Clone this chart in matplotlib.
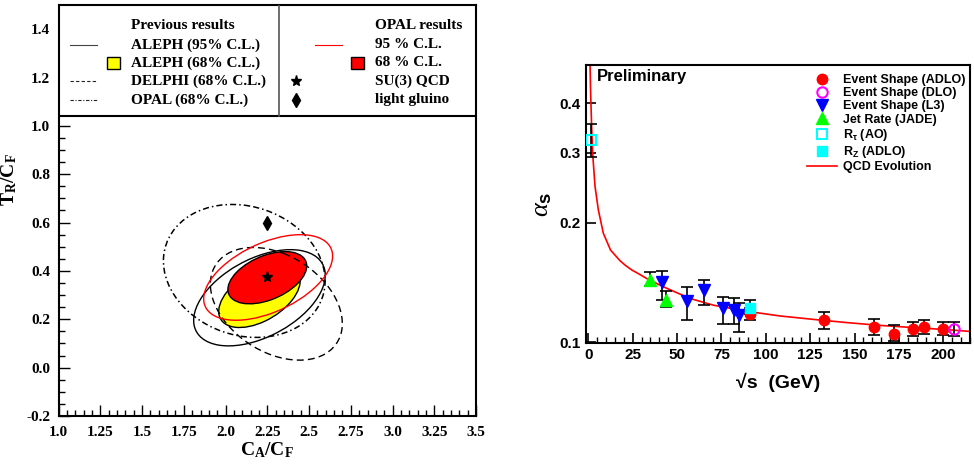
import numpy as np
import matplotlib.pyplot as plt
from matplotlib.patches import Ellipse, Rectangle
from matplotlib.lines import Line2D
from matplotlib.ticker import MultipleLocator, NullLocator, FixedLocator

plt.rcParams['mathtext.fontset'] = 'custom'
plt.rcParams['mathtext.rm'] = 'Liberation Serif:bold'
plt.rcParams['mathtext.bf'] = 'Liberation Serif:bold'
plt.rcParams['mathtext.it'] = 'Liberation Serif:italic'
plt.rcParams['mathtext.sf'] = 'Liberation Sans:bold'

# ---- left panel: contours (centre x, centre y, half-width x, half-width y, correlation)
aleph95 = [2.203, 0.289, 0.394, 0.199, 0.47]
aleph68 = [2.203, 0.296, 0.244, 0.130, 0.49]
delphi68 = [2.304, 0.264, 0.395, 0.233, -0.35]
opal_old68 = [2.112, 0.400, 0.484, 0.275, -0.15]
opal95 = [2.255, 0.373, 0.386, 0.177, 0.50]
opal68 = [2.250, 0.372, 0.236, 0.108, 0.45]
su3_qcd = [2.25, 0.375]
light_gluino = [2.25, 0.60]

# ---- right panel: alpha_s vs sqrt(s)
es_adlo_x = [91.2, 133, 161, 172, 183, 189, 200]
es_adlo_y = [0.1180, 0.1135, 0.1091, 0.1050, 0.1077, 0.1091, 0.1081]
es_adlo_hi = [0.1220, 0.1191, 0.1146, 0.1102, 0.1124, 0.1139, 0.1124]
es_adlo_lo = [0.1140, 0.1081, 0.1040, 0.1005, 0.1034, 0.1050, 0.1040]

es_dlo_x = [206]
es_dlo_y = [0.1077]
es_dlo_hi = [0.1124]
es_dlo_lo = [0.1034]

es_l3_x = [41.4, 55.3, 65.4, 75.7, 82.3, 85.1]
es_l3_y = [0.1414, 0.1270, 0.1352, 0.1219, 0.1208, 0.1169]
es_l3_hi = [0.1514, 0.1378, 0.1433, 0.1300, 0.1293, 0.1258]
es_l3_lo = [0.1280, 0.1139, 0.1239, 0.1113, 0.1109, 0.1060]

jade_x = [35, 44]
jade_y = [0.1433, 0.1275]
jade_hi = [0.1504, 0.1344]
jade_lo = [0.1383, 0.1227]

rtau_x = [1.78]
rtau_y = [0.3243]
rtau_hi = [0.3550]
rtau_lo = [0.2926]

rz_x = [91.2]
rz_y = [0.1222]
rz_hi = [0.1275]
rz_lo = [0.1180]

qcd_x = [0.97, 1.29, 1.86, 2.42, 3.77, 5.63, 8.44, 12.5, 17.8, 21, 24.5, 28, 34, 44.3,
         57.4, 70.5, 89.3, 108, 126.8, 145.6, 164.3, 183.1, 201.9, 215]
qcd_y = [0.500, 0.426, 0.350, 0.300, 0.247, 0.2156, 0.1882, 0.1707, 0.1605, 0.156,
         0.152, 0.149, 0.1437, 0.1366, 0.1288, 0.1239, 0.1196, 0.1164, 0.1141, 0.1120,
         0.1102, 0.1088, 0.1075, 0.1064]


def contour(p, **kw):
    cx, cy, sx, sy, r = p
    cov = np.array([[sx**2, r*sx*sy], [r*sx*sy, sy**2]])
    vals, vecs = np.linalg.eigh(cov)
    ang = np.degrees(np.arctan2(vecs[1, 1], vecs[0, 1]))
    return Ellipse((cx, cy), 2*np.sqrt(vals[1]), 2*np.sqrt(vals[0]), angle=ang, **kw)


fig = plt.figure(figsize=(9.74, 4.66), dpi=100)

serif = 'Liberation Serif'
sans = ['Liberation Sans', 'DejaVu Sans']

# ================= left panel =================
ax = fig.add_axes([0.0601, 0.1073, 0.4287, 0.882])
ax.set_xlim(1.0, 3.5)
ax.set_ylim(-0.2, 1.5)

ax.add_patch(contour(aleph68, facecolor='#ffff00', edgecolor='black', lw=1.0, zorder=2))
ax.add_patch(contour(opal68, facecolor='#ff0000', edgecolor='black', lw=1.0, zorder=2.1))
ax.add_patch(contour(aleph95, facecolor='none', edgecolor='black', lw=1.0, zorder=2.2))
ax.add_patch(contour(delphi68, facecolor='none', edgecolor='black', lw=1.0,
                     linestyle=(0, (5, 3)), zorder=2.2))
ax.add_patch(contour(opal_old68, facecolor='none', edgecolor='black', lw=1.1,
                     linestyle=(0, (4, 2, 1, 2)), zorder=2.2))
ax.add_patch(contour(opal95, facecolor='none', edgecolor='red', lw=1.0, zorder=2.3))
ax.plot([su3_qcd[0]], [su3_qcd[1]], marker='*', color='black', ms=8, zorder=3)
ax.plot([light_gluino[0]], [light_gluino[1]], marker='d', color='black', ms=7, zorder=3)

ax.xaxis.set_minor_locator(MultipleLocator(0.05))
ax.yaxis.set_minor_locator(MultipleLocator(0.05))
ax.set_xticks(np.arange(1.0, 3.51, 0.25))
ax.set_xticklabels(['1.0', '1.25', '1.5', '1.75', '2.0', '2.25', '2.5', '2.75', '3.0', '3.25', '3.5'])
ax.set_yticks(np.arange(-0.2, 1.41, 0.2))
ax.set_yticklabels(['-0.2', '0.0', '0.2', '0.4', '0.6', '0.8', '1.0', '1.2', '1.4'])
ax.tick_params(which='both', direction='in')
ax.tick_params(which='major', length=8, width=1)
ax.tick_params(which='minor', length=4, width=1)
ax.tick_params(axis='x', pad=7)
ax.tick_params(axis='y', pad=6)
for lab in ax.get_xticklabels() + ax.get_yticklabels():
    lab.set_fontfamily(serif)
    lab.set_fontweight('bold')
    lab.set_fontsize(11)
for s in ax.spines.values():
    s.set_linewidth(1.5)

ax.set_xlabel(r'$\mathrm{C_A/C_F}$', fontsize=14, labelpad=1)
ax.set_ylabel(r'$\mathrm{T_R/C_F}$', fontsize=14, labelpad=4)
ax.yaxis.set_label_coords(-0.095, 0.574)

# legend box on top of the plot
ax.add_patch(Rectangle((0, 0.730), 1, 0.270, transform=ax.transAxes,
                       facecolor='white', edgecolor='black', lw=1.5, zorder=5))
ax.add_line(Line2D([0.528, 0.528], [0.730, 1.0], transform=ax.transAxes,
                   color='#555555', lw=1.2, zorder=6))
rows = [0.949, 0.903, 0.859, 0.814, 0.769]
tk = dict(transform=ax.transAxes, fontfamily=serif, fontweight='bold',
          fontsize=11, va='center', zorder=7)
ax.text(0.1737, rows[0], 'Previous results', **tk)
ax.text(0.1737, rows[1], 'ALEPH (95% C.L.)', **tk)
ax.text(0.1737, rows[2], 'ALEPH (68% C.L.)', **tk)
ax.text(0.1737, rows[3], 'DELPHI (68% C.L.)', **tk)
ax.text(0.1737, rows[4], 'OPAL (68% C.L.)', **tk)
ax.text(0.758, rows[0], 'OPAL results', **tk)
ax.text(0.758, rows[1], '95 % C.L.', **tk)
ax.text(0.758, rows[2], '68 % C.L.', **tk)
ax.text(0.758, rows[3], 'SU(3) QCD', **tk)
ax.text(0.758, rows[4], 'light gluino', **tk)
lk = dict(transform=ax.transAxes, zorder=7)
ax.add_line(Line2D([0.0275, 0.092], [rows[1]] * 2, color='#444444', lw=0.8, **lk))
ax.add_line(Line2D([0.0275, 0.092], [rows[3]] * 2, color='#222222', lw=0.8,
                   linestyle=(0, (3, 2)), **lk))
ax.add_line(Line2D([0.0275, 0.092], [rows[4]] * 2, color='#222222', lw=0.8,
                   linestyle=(0, (3, 1.5, 1, 1.5)), **lk))
ax.add_patch(Rectangle((0.116, rows[2] - 0.014), 0.031, 0.028, transform=ax.transAxes,
                       facecolor='#ffff00', edgecolor='black', lw=1.0, zorder=7))
ax.add_line(Line2D([0.614, 0.679], [rows[1]] * 2, color='red', lw=0.8, **lk))
ax.add_patch(Rectangle((0.700, rows[2] - 0.014), 0.031, 0.028, transform=ax.transAxes,
                       facecolor='#ff0000', edgecolor='black', lw=1.0, zorder=7))
ax.add_line(Line2D([0.569], [rows[3]], marker='*', color='black', ms=8, lw=0, **lk))
ax.add_line(Line2D([0.569], [rows[4]], marker='d', color='black', ms=7, lw=0, **lk))

# ================= right panel =================
bx = fig.add_axes([0.6013, 0.264, 0.3946, 0.5966])
bx.set_yscale('log')
bx.set_xlim(-1.5, 215)
bx.set_ylim(0.0995, 0.5)

h7, = bx.plot(qcd_x, qcd_y, color='red', lw=1.2, zorder=2, label='QCD Evolution')


def errs(x, y, hi, lo):
    y = np.array(y)
    bx.errorbar(x, y, yerr=[y - np.array(lo), np.array(hi) - y], fmt='none',
                ecolor='black', elinewidth=1.2, capsize=4, capthick=1.2, zorder=3)


errs(es_adlo_x, es_adlo_y, es_adlo_hi, es_adlo_lo)
errs(es_dlo_x, es_dlo_y, es_dlo_hi, es_dlo_lo)
errs(es_l3_x, es_l3_y, es_l3_hi, es_l3_lo)
errs(jade_x, jade_y, jade_hi, jade_lo)
errs(rtau_x, rtau_y, rtau_hi, rtau_lo)
errs(rz_x, rz_y, rz_hi, rz_lo)

h1, = bx.plot(es_adlo_x, es_adlo_y, 'o', color='red', ms=7.5, zorder=4, label='Event Shape (ADLO)')
h2, = bx.plot(es_dlo_x, es_dlo_y, 'o', mfc='none', mec='#ff00ff', mew=1.5, ms=7.5, zorder=4,
              label='Event Shape (DLO)')
h3, = bx.plot(es_l3_x, es_l3_y, 'v', color='#0000ff', ms=8, zorder=4, label='Event Shape (L3)')
h4, = bx.plot(jade_x, jade_y, '^', color='#00ff00', ms=8, zorder=4, label='Jet Rate (JADE)')
h5, = bx.plot(rtau_x, rtau_y, 's', mfc='none', mec='#00ffff', mew=1.5, ms=7.5, zorder=4,
              label=r'$\mathsf{R_\tau}$ (AO)')
h6, = bx.plot(rz_x, rz_y, 's', color='#00ffff', ms=7.5, zorder=4, label=r'$\mathsf{R_Z}$ (ADLO)')

leg = bx.legend(handles=[h1, h2, h3, h4, h5, h6, h7], loc='upper left',
                bbox_to_anchor=(0.56, 0.99), frameon=False, borderpad=0,
                handlelength=2.4, handletextpad=0.45, labelspacing=0.1,
                prop=dict(family=sans, weight='bold', size=9))

bx.text(0.03, 0.985, 'Preliminary', transform=bx.transAxes, ha='left', va='top',
        fontfamily=sans, fontweight='bold', fontsize=12)

bx.yaxis.set_major_locator(FixedLocator([0.1, 0.2, 0.3, 0.4]))
bx.yaxis.set_minor_locator(NullLocator())
bx.set_yticklabels(['0.1', '0.2', '0.3', '0.4'])
bx.xaxis.set_major_locator(MultipleLocator(25))
bx.xaxis.set_minor_locator(MultipleLocator(5))
bx.tick_params(which='both', direction='in')
bx.tick_params(which='major', length=7, width=1.2)
bx.tick_params(which='minor', length=4, width=1)
for lab in bx.get_xticklabels() + bx.get_yticklabels():
    lab.set_fontfamily(sans)
    lab.set_fontweight('bold')
    lab.set_fontsize(11)
for s in bx.spines.values():
    s.set_linewidth(1.5)

bx.set_xlabel('√s  (GeV)', fontfamily=sans, fontweight='bold', fontsize=14, labelpad=8)
bx.set_ylabel(r'$\alpha_\mathsf{s}$', fontsize=19, labelpad=4)

fig.savefig('out.png', dpi=100)
